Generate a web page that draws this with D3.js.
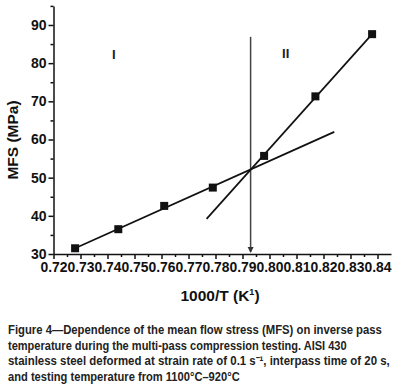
<!DOCTYPE html>
<html>
<head>
<meta charset="utf-8">
<script src="https://cdn.jsdelivr.net/npm/d3@7"></script>
<style>
  body { margin: 0; background: #fff; }
  svg { display: block; font-family: "Liberation Sans", Arial, sans-serif; }
  .axis text { font-weight: bold; font-size: 14px; fill: #111; }
  .axis path, .axis line { stroke: #111; stroke-width: 1.5; }
</style>
</head>
<body>
<svg id="chart" width="398" height="391"></svg>
<script>
// inverse pass temperature and mean flow stress
const invT = [0.728, 0.744, 0.761, 0.779, 0.798, 0.817, 0.838];
const mfs = [31.5, 36.5, 42.6, 47.4, 55.7, 71.3, 87.6];

// fitted lines for regions I and II (end points)
const fitIx = [0.728, 0.824];
const fitIy = [31.5, 62.0];
const fitIIx = [0.7767, 0.838];
const fitIIy = [39.2, 87.6];

// transition marker
const transX = 0.793;
const transTop = 86.9;

const xTicks = [0.72, 0.73, 0.74, 0.75, 0.76, 0.77, 0.78, 0.79, 0.80, 0.81, 0.82, 0.83, 0.84];
const yTicks = [30, 40, 50, 60, 70, 80, 90];

const captionLines = [
  "Figure 4\u2014Dependence of the mean flow stress (MFS) on inverse pass",
  "temperature during the multi-pass compression testing. AISI 430",
  "stainless steel deformed at strain rate of 0.1 s\u207B\u00B9, interpass time of 20 s,",
  "and testing temperature from 1100\u00B0C\u2013920\u00B0C"
];
const captionWidths = [374, 339, 382, 232];

const svg = d3.select("#chart");

const x = d3.scaleLinear().domain([0.72, 0.845]).range([53.5, 391]);
const y = d3.scaleLinear().domain([30, 95]).range([254, 5.9]);

// minor ticks
svg.append("g")
  .attr("class", "axis")
  .attr("transform", "translate(0,254)")
  .call(d3.axisBottom(x).tickValues(d3.range(0.725, 0.845, 0.01)).tickSize(3).tickFormat(""))
  .select(".domain").remove();
svg.append("g")
  .attr("class", "axis")
  .attr("transform", "translate(53.5,0)")
  .call(d3.axisLeft(y).tickValues([35, 45, 55, 65, 75, 85, 95]).tickSize(3).tickFormat(""))
  .select(".domain").remove();

// major axes
const xAxis = svg.append("g")
  .attr("class", "axis")
  .attr("transform", "translate(0,254)")
  .call(d3.axisBottom(x).tickValues(xTicks).tickSize(5).tickSizeOuter(0).tickPadding(3).tickFormat(d3.format(".2f")));
xAxis.selectAll("text").attr("textLength", 27).attr("lengthAdjust", "spacingAndGlyphs");

svg.append("g")
  .attr("class", "axis")
  .attr("transform", "translate(53.5,0)")
  .call(d3.axisLeft(y).tickValues(yTicks).tickSize(5).tickSizeOuter(0).tickPadding(2));

// axis titles
svg.append("text")
  .attr("transform", "translate(18,140) rotate(-90)")
  .attr("text-anchor", "middle")
  .style("font-weight", "bold").style("font-size", "15.5px").attr("fill", "#111")
  .text("MFS (MPa)");

const xt = svg.append("text")
  .attr("x", 220).attr("y", 301)
  .attr("text-anchor", "middle")
  .style("font-weight", "bold").style("font-size", "15.5px").attr("fill", "#111");
xt.append("tspan").text("1000/T (K");
xt.append("tspan").attr("dy", -6).style("font-size", "9px").text("1");
xt.append("tspan").attr("dy", 6).text(")");

// vertical transition line with arrow
svg.append("line")
  .attr("x1", x(transX)).attr("x2", x(transX))
  .attr("y1", y(transTop)).attr("y2", y(30) - 2)
  .attr("stroke", "#444").attr("stroke-width", 1.5);
svg.append("path")
  .attr("d", `M${x(transX) - 3},${y(30) - 7} L${x(transX) + 3},${y(30) - 7} L${x(transX)},${y(30) - 1} Z`)
  .attr("fill", "#333");

// fit lines
const line = d3.line().x(d => x(d[0])).y(d => y(d[1]));
svg.append("path")
  .attr("d", line(d3.zip(fitIx, fitIy)))
  .attr("fill", "none").attr("stroke", "#111").attr("stroke-width", 1.7);
svg.append("path")
  .attr("d", line(d3.zip(fitIIx, fitIIy)))
  .attr("fill", "none").attr("stroke", "#111").attr("stroke-width", 1.7);

// data markers
svg.selectAll("rect.pt")
  .data(d3.zip(invT, mfs))
  .join("rect")
  .attr("class", "pt")
  .attr("x", d => x(d[0]) - 4).attr("y", d => y(d[1]) - 4)
  .attr("width", 8).attr("height", 8)
  .attr("fill", "#111");

// region labels
svg.append("text").attr("x", x(0.7423)).attr("y", 59)
  .attr("text-anchor", "middle").style("font-weight", "bold").style("font-size", "13px").attr("fill", "#222")
  .text("I");
svg.append("text").attr("x", x(0.8060)).attr("y", 58)
  .attr("text-anchor", "middle").style("font-weight", "bold").style("font-size", "13px").attr("fill", "#222")
  .text("II");

// caption, squeezed horizontally to the printed line widths
svg.append("g")
  .selectAll("text")
  .data(captionLines)
  .join("text")
  .style("font-weight", "bold").style("font-size", "12.5px").attr("fill", "#222")
  .text(d => d)
  .each(function(d, i) {
    const w = this.getComputedTextLength();
    const sx = captionWidths[i] / w;
    d3.select(this).attr("transform", `translate(8,${334 + i * 15.5}) scale(${sx},1)`);
  });
</script>
</body>
</html>
